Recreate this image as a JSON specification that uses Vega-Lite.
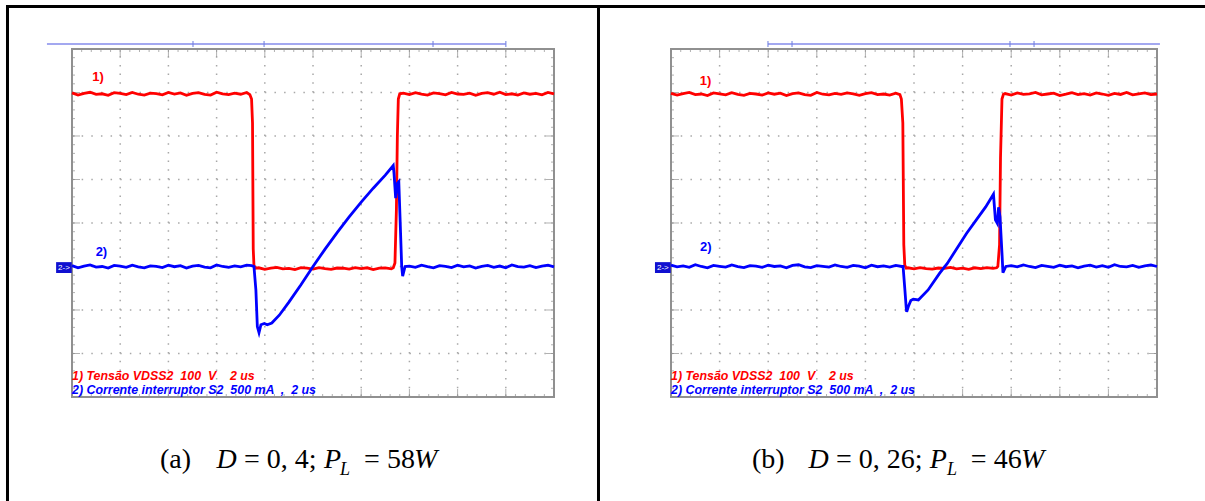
{
"$schema": "https://vega.github.io/schema/vega-lite/v6.json",
"padding": 0,
"background": "white",
"spacing": 0,
"bounds": "flush",
"config": {"view": {"stroke": null}},
"datasets": {
"one": [{}],
"xg": [{"t":2},{"t":4},{"t":6},{"t":8},{"t":10},{"t":12},{"t":14},{"t":16},{"t":18}],
"yg": [{"v":-3},{"v":-2},{"v":-1},{"v":0},{"v":1},{"v":2},{"v":3}],
"xt": [{"t":0,"m":0},{"t":0.4,"m":0},{"t":0.8,"m":0},{"t":1.2,"m":0},{"t":1.6,"m":0},{"t":2,"m":1},{"t":2.4,"m":0},{"t":2.8,"m":0},{"t":3.2,"m":0},{"t":3.6,"m":0},{"t":4,"m":1},{"t":4.4,"m":0},{"t":4.8,"m":0},{"t":5.2,"m":0},{"t":5.6,"m":0},{"t":6,"m":1},{"t":6.4,"m":0},{"t":6.8,"m":0},{"t":7.2,"m":0},{"t":7.6,"m":0},{"t":8,"m":1},{"t":8.4,"m":0},{"t":8.8,"m":0},{"t":9.2,"m":0},{"t":9.6,"m":0},{"t":10,"m":1},{"t":10.4,"m":0},{"t":10.8,"m":0},{"t":11.2,"m":0},{"t":11.6,"m":0},{"t":12,"m":1},{"t":12.4,"m":0},{"t":12.8,"m":0},{"t":13.2,"m":0},{"t":13.6,"m":0},{"t":14,"m":1},{"t":14.4,"m":0},{"t":14.8,"m":0},{"t":15.2,"m":0},{"t":15.6,"m":0},{"t":16,"m":1},{"t":16.4,"m":0},{"t":16.8,"m":0},{"t":17.2,"m":0},{"t":17.6,"m":0},{"t":18,"m":1},{"t":18.4,"m":0},{"t":18.8,"m":0},{"t":19.2,"m":0},{"t":19.6,"m":0},{"t":20,"m":0}],
"yt": [{"v":-4,"m":0},{"v":-3.8,"m":0},{"v":-3.6,"m":0},{"v":-3.4,"m":0},{"v":-3.2,"m":0},{"v":-3,"m":1},{"v":-2.8,"m":0},{"v":-2.6,"m":0},{"v":-2.4,"m":0},{"v":-2.2,"m":0},{"v":-2,"m":1},{"v":-1.8,"m":0},{"v":-1.6,"m":0},{"v":-1.4,"m":0},{"v":-1.2,"m":0},{"v":-1,"m":1},{"v":-0.8,"m":0},{"v":-0.6,"m":0},{"v":-0.4,"m":0},{"v":-0.2,"m":0},{"v":0,"m":1},{"v":0.2,"m":0},{"v":0.4,"m":0},{"v":0.6,"m":0},{"v":0.8,"m":0},{"v":1,"m":1},{"v":1.2,"m":0},{"v":1.4,"m":0},{"v":1.6,"m":0},{"v":1.8,"m":0},{"v":2,"m":1},{"v":2.2,"m":0},{"v":2.4,"m":0},{"v":2.6,"m":0},{"v":2.8,"m":0},{"v":3,"m":1},{"v":3.2,"m":0},{"v":3.4,"m":0},{"v":3.6,"m":0},{"v":3.8,"m":0},{"v":4,"m":0}],
"curL": [{"t":5.02},{"t":7.97},{"t":14.98},{"t":18.0}],
"curR": [{"t":3.99},{"t":4.98},{"t":13.95},{"t":14.94}],
"rL": [{"t":0,"v":2.99},{"t":0.25,"v":2.94},{"t":0.5,"v":2.98},{"t":0.75,"v":3.005},{"t":1,"v":2.955},{"t":1.25,"v":2.97},{"t":1.5,"v":2.935},{"t":1.75,"v":2.995},{"t":2,"v":2.98},{"t":2.25,"v":2.95},{"t":2.5,"v":3.0},{"t":2.75,"v":2.96},{"t":3,"v":2.94},{"t":3.25,"v":2.985},{"t":3.5,"v":2.975},{"t":3.75,"v":2.945},{"t":4,"v":3.0},{"t":4.25,"v":2.965},{"t":4.5,"v":2.99},{"t":4.75,"v":2.935},{"t":5,"v":2.98},{"t":5.25,"v":2.995},{"t":5.5,"v":2.955},{"t":5.75,"v":2.94},{"t":6,"v":3.005},{"t":6.25,"v":2.97},{"t":6.5,"v":2.95},{"t":6.75,"v":2.985},{"t":7,"v":2.96},{"t":7.25,"v":3.0},{"t":7.38,"v":2.95},{"t":7.45,"v":2.85},{"t":7.49,"v":2.3},{"t":7.52,"v":-0.6},{"t":7.55,"v":-0.98},{"t":7.62,"v":-1.04},{"t":7.75,"v":-1.03},{"t":8,"v":-1.065},{"t":8.25,"v":-1.04},{"t":8.5,"v":-1.02},{"t":8.75,"v":-1.055},{"t":9,"v":-1.045},{"t":9.25,"v":-1.07},{"t":9.5,"v":-1.025},{"t":9.75,"v":-1.04},{"t":10,"v":-1.06},{"t":10.25,"v":-1.025},{"t":10.5,"v":-1.05},{"t":10.75,"v":-1.065},{"t":11,"v":-1.035},{"t":11.25,"v":-1.04},{"t":11.5,"v":-1.06},{"t":11.75,"v":-1.025},{"t":12,"v":-1.05},{"t":12.25,"v":-1.03},{"t":12.5,"v":-1.07},{"t":12.75,"v":-1.04},{"t":13,"v":-1.03},{"t":13.25,"v":-1.055},{"t":13.33,"v":-1.03},{"t":13.4,"v":-0.92},{"t":13.46,"v":0.3},{"t":13.5,"v":2.0},{"t":13.54,"v":2.85},{"t":13.6,"v":2.97},{"t":13.75,"v":2.985},{"t":14,"v":2.95},{"t":14.25,"v":2.995},{"t":14.5,"v":2.96},{"t":14.75,"v":2.94},{"t":15,"v":2.99},{"t":15.25,"v":2.975},{"t":15.5,"v":2.945},{"t":15.75,"v":3.0},{"t":16,"v":2.965},{"t":16.25,"v":2.955},{"t":16.5,"v":2.985},{"t":16.75,"v":2.935},{"t":17,"v":2.98},{"t":17.25,"v":2.995},{"t":17.5,"v":2.96},{"t":17.75,"v":3.005},{"t":18,"v":2.95},{"t":18.25,"v":2.97},{"t":18.5,"v":2.94},{"t":18.75,"v":2.99},{"t":19,"v":2.96},{"t":19.25,"v":2.98},{"t":19.5,"v":2.945},{"t":19.75,"v":3.0},{"t":20,"v":2.97}],
"bL": [{"t":0,"v":-0.98},{"t":0.25,"v":-1.03},{"t":0.5,"v":-0.99},{"t":0.75,"v":-0.965},{"t":1,"v":-1.015},{"t":1.25,"v":-1.0},{"t":1.5,"v":-1.035},{"t":1.75,"v":-0.975},{"t":2,"v":-0.99},{"t":2.25,"v":-1.02},{"t":2.5,"v":-0.97},{"t":2.75,"v":-1.01},{"t":3,"v":-1.03},{"t":3.25,"v":-0.985},{"t":3.5,"v":-0.995},{"t":3.75,"v":-1.025},{"t":4,"v":-0.97},{"t":4.25,"v":-1.005},{"t":4.5,"v":-0.98},{"t":4.75,"v":-1.035},{"t":5,"v":-0.99},{"t":5.25,"v":-0.975},{"t":5.5,"v":-1.015},{"t":5.75,"v":-1.03},{"t":6,"v":-0.965},{"t":6.25,"v":-1.0},{"t":6.5,"v":-1.02},{"t":6.75,"v":-0.985},{"t":7,"v":-1.01},{"t":7.25,"v":-0.97},{"t":7.45,"v":-0.98},{"t":7.55,"v":-1.0},{"t":7.63,"v":-1.54},{"t":7.69,"v":-2.38},{"t":7.76,"v":-2.52},{"t":7.84,"v":-2.34},{"t":7.98,"v":-2.31},{"t":8.1,"v":-2.34},{"t":8.29,"v":-2.3},{"t":8.6,"v":-2.12},{"t":9,"v":-1.82},{"t":9.5,"v":-1.42},{"t":10,"v":-1.0},{"t":10.5,"v":-0.6},{"t":11,"v":-0.22},{"t":11.5,"v":0.14},{"t":12,"v":0.48},{"t":12.5,"v":0.8},{"t":13,"v":1.1},{"t":13.33,"v":1.32},{"t":13.36,"v":1.15},{"t":13.43,"v":0.57},{"t":13.5,"v":0.91},{"t":13.56,"v":0.95},{"t":13.61,"v":0.14},{"t":13.68,"v":-1.0},{"t":13.72,"v":-1.22},{"t":13.82,"v":-1.0},{"t":14,"v":-0.99},{"t":14.25,"v":-1.02},{"t":14.5,"v":-0.97},{"t":14.75,"v":-1.005},{"t":15,"v":-1.03},{"t":15.25,"v":-0.98},{"t":15.5,"v":-0.995},{"t":15.75,"v":-1.025},{"t":16,"v":-0.97},{"t":16.25,"v":-1.01},{"t":16.5,"v":-0.985},{"t":16.75,"v":-1.035},{"t":17,"v":-1.0},{"t":17.25,"v":-0.975},{"t":17.5,"v":-1.02},{"t":17.75,"v":-0.99},{"t":18,"v":-1.03},{"t":18.25,"v":-0.965},{"t":18.5,"v":-1.005},{"t":18.75,"v":-1.015},{"t":19,"v":-0.98},{"t":19.25,"v":-1.025},{"t":19.5,"v":-0.99},{"t":19.75,"v":-0.97},{"t":20,"v":-1.01}],
"rR": [{"t":0,"v":2.98},{"t":0.25,"v":2.94},{"t":0.5,"v":2.975},{"t":0.75,"v":3.0},{"t":1,"v":2.95},{"t":1.25,"v":2.965},{"t":1.5,"v":2.93},{"t":1.75,"v":2.99},{"t":2,"v":2.97},{"t":2.25,"v":2.945},{"t":2.5,"v":2.995},{"t":2.75,"v":2.955},{"t":3,"v":2.935},{"t":3.25,"v":2.98},{"t":3.5,"v":2.965},{"t":3.75,"v":2.94},{"t":4,"v":2.99},{"t":4.25,"v":2.96},{"t":4.5,"v":2.985},{"t":4.75,"v":2.93},{"t":5,"v":2.975},{"t":5.25,"v":2.99},{"t":5.5,"v":2.95},{"t":5.75,"v":2.935},{"t":6,"v":3.0},{"t":6.25,"v":2.96},{"t":6.5,"v":2.945},{"t":6.75,"v":2.98},{"t":7,"v":2.955},{"t":7.25,"v":2.99},{"t":7.5,"v":2.97},{"t":7.75,"v":2.935},{"t":8,"v":2.975},{"t":8.25,"v":2.995},{"t":8.5,"v":2.95},{"t":8.75,"v":2.965},{"t":9,"v":2.94},{"t":9.25,"v":2.985},{"t":9.42,"v":2.95},{"t":9.48,"v":2.85},{"t":9.54,"v":2.3},{"t":9.58,"v":-0.5},{"t":9.62,"v":-0.97},{"t":9.68,"v":-1.04},{"t":9.75,"v":-1.03},{"t":10,"v":-1.055},{"t":10.25,"v":-1.025},{"t":10.5,"v":-1.05},{"t":10.75,"v":-1.06},{"t":11,"v":-1.035},{"t":11.25,"v":-1.045},{"t":11.5,"v":-1.02},{"t":11.75,"v":-1.055},{"t":12,"v":-1.04},{"t":12.25,"v":-1.065},{"t":12.5,"v":-1.03},{"t":12.75,"v":-1.05},{"t":13,"v":-1.025},{"t":13.25,"v":-1.045},{"t":13.4,"v":-1.03},{"t":13.45,"v":-1.0},{"t":13.52,"v":-0.5},{"t":13.56,"v":1.5},{"t":13.62,"v":2.85},{"t":13.68,"v":2.96},{"t":13.75,"v":2.975},{"t":14,"v":2.94},{"t":14.25,"v":2.99},{"t":14.5,"v":2.955},{"t":14.75,"v":2.97},{"t":15,"v":3.0},{"t":15.25,"v":2.945},{"t":15.5,"v":2.965},{"t":15.75,"v":2.985},{"t":16,"v":2.93},{"t":16.25,"v":2.96},{"t":16.5,"v":2.995},{"t":16.75,"v":2.95},{"t":17,"v":2.975},{"t":17.25,"v":2.94},{"t":17.5,"v":2.99},{"t":17.75,"v":2.965},{"t":18,"v":2.935},{"t":18.25,"v":2.98},{"t":18.5,"v":2.955},{"t":18.75,"v":3.0},{"t":19,"v":2.945},{"t":19.25,"v":2.97},{"t":19.5,"v":2.99},{"t":19.75,"v":2.95},{"t":20,"v":2.965}],
"bR": [{"t":0,"v":-0.97},{"t":0.25,"v":-1.01},{"t":0.5,"v":-0.985},{"t":0.75,"v":-1.02},{"t":1,"v":-0.96},{"t":1.25,"v":-1.0},{"t":1.5,"v":-1.03},{"t":1.75,"v":-0.975},{"t":2,"v":-0.995},{"t":2.25,"v":-1.015},{"t":2.5,"v":-0.965},{"t":2.75,"v":-1.005},{"t":3,"v":-1.025},{"t":3.25,"v":-0.98},{"t":3.5,"v":-0.99},{"t":3.75,"v":-1.02},{"t":4,"v":-0.97},{"t":4.25,"v":-1.0},{"t":4.5,"v":-0.985},{"t":4.75,"v":-1.03},{"t":5,"v":-0.975},{"t":5.25,"v":-0.96},{"t":5.5,"v":-1.01},{"t":5.75,"v":-1.025},{"t":6,"v":-0.98},{"t":6.25,"v":-0.995},{"t":6.5,"v":-1.015},{"t":6.75,"v":-0.965},{"t":7,"v":-1.0},{"t":7.25,"v":-1.02},{"t":7.5,"v":-0.975},{"t":7.75,"v":-0.99},{"t":8,"v":-1.03},{"t":8.25,"v":-0.97},{"t":8.5,"v":-1.005},{"t":8.75,"v":-0.985},{"t":9,"v":-1.015},{"t":9.25,"v":-0.975},{"t":9.5,"v":-1.0},{"t":9.55,"v":-1.0},{"t":9.62,"v":-1.5},{"t":9.68,"v":-1.95},{"t":9.7,"v":-2.04},{"t":9.78,"v":-1.9},{"t":9.87,"v":-1.78},{"t":9.97,"v":-1.75},{"t":10.18,"v":-1.77},{"t":10.58,"v":-1.54},{"t":11.05,"v":-1.16},{"t":11.37,"v":-0.93},{"t":12.16,"v":-0.24},{"t":12.95,"v":0.37},{"t":13.27,"v":0.66},{"t":13.35,"v":0.07},{"t":13.43,"v":-0.01},{"t":13.48,"v":0.36},{"t":13.54,"v":0.14},{"t":13.62,"v":-0.69},{"t":13.66,"v":-1.14},{"t":13.78,"v":-1.0},{"t":14,"v":-0.98},{"t":14.25,"v":-1.01},{"t":14.5,"v":-0.965},{"t":14.75,"v":-1.0},{"t":15,"v":-1.025},{"t":15.25,"v":-0.975},{"t":15.5,"v":-0.995},{"t":15.75,"v":-1.02},{"t":16,"v":-0.97},{"t":16.25,"v":-1.005},{"t":16.5,"v":-0.985},{"t":16.75,"v":-1.03},{"t":17,"v":-0.99},{"t":17.25,"v":-0.97},{"t":17.5,"v":-1.015},{"t":17.75,"v":-0.98},{"t":18,"v":-1.02},{"t":18.25,"v":-0.96},{"t":18.5,"v":-1.0},{"t":18.75,"v":-1.01},{"t":19,"v":-0.975},{"t":19.25,"v":-1.02},{"t":19.5,"v":-0.985},{"t":19.75,"v":-0.965},{"t":20,"v":-1.0}]
},
"hconcat": [
{
"width": 599, "height": 501,
"layer": [
{"data": {"name": "xg"}, "mark": {"type": "rule", "color": "#a8a8a8", "strokeWidth": 1.5, "strokeDash": [1.5, 7.2]}, "encoding": {"x": {"field": "t", "type": "quantitative", "scale": {"domain": [-2.988, 21.867], "nice": false, "zero": false}, "axis": null}, "y": {"datum": -4, "type": "quantitative", "scale": {"domain": [-6.391, 5.126], "nice": false, "zero": false}, "axis": null}, "y2": {"datum": 4}}},
{"data": {"name": "yg"}, "mark": {"type": "rule", "color": "#a8a8a8", "strokeWidth": 1.5, "strokeDash": [1.5, 8.14]}, "encoding": {"y": {"field": "v", "type": "quantitative"}, "x": {"datum": 0}, "x2": {"datum": 20}}},
{"data": {"name": "one"}, "mark": {"type": "rect", "fillOpacity": 0, "stroke": "#909090", "strokeWidth": 2}, "encoding": {"x": {"datum": 0}, "x2": {"datum": 20}, "y": {"datum": -4}, "y2": {"datum": 4}}},
{"data": {"name": "xt"}, "mark": {"type": "tick", "orient": "vertical", "color": "#909090", "thickness": 1, "size": 3, "yOffset": 1.5}, "encoding": {"x": {"field": "t", "type": "quantitative"}, "y": {"datum": 4}}},
{"data": {"name": "xt"}, "transform": [{"filter": "datum.m == 1"}], "mark": {"type": "tick", "orient": "vertical", "color": "#909090", "thickness": 1, "size": 8, "yOffset": 4}, "encoding": {"x": {"field": "t", "type": "quantitative"}, "y": {"datum": 4}}},
{"data": {"name": "xt"}, "mark": {"type": "tick", "orient": "vertical", "color": "#909090", "thickness": 1, "size": 3, "yOffset": -1.5}, "encoding": {"x": {"field": "t", "type": "quantitative"}, "y": {"datum": -4}}},
{"data": {"name": "xt"}, "transform": [{"filter": "datum.m == 1"}], "mark": {"type": "tick", "orient": "vertical", "color": "#909090", "thickness": 1, "size": 8, "yOffset": -4}, "encoding": {"x": {"field": "t", "type": "quantitative"}, "y": {"datum": -4}}},
{"data": {"name": "yt"}, "mark": {"type": "tick", "orient": "horizontal", "color": "#909090", "thickness": 1, "size": 3, "xOffset": 1.5}, "encoding": {"y": {"field": "v", "type": "quantitative"}, "x": {"datum": 0}}},
{"data": {"name": "yt"}, "transform": [{"filter": "datum.m == 1"}], "mark": {"type": "tick", "orient": "horizontal", "color": "#909090", "thickness": 1, "size": 8, "xOffset": 4}, "encoding": {"y": {"field": "v", "type": "quantitative"}, "x": {"datum": 0}}},
{"data": {"name": "yt"}, "mark": {"type": "tick", "orient": "horizontal", "color": "#909090", "thickness": 1, "size": 3, "xOffset": -1.5}, "encoding": {"y": {"field": "v", "type": "quantitative"}, "x": {"datum": 20}}},
{"data": {"name": "yt"}, "transform": [{"filter": "datum.m == 1"}], "mark": {"type": "tick", "orient": "horizontal", "color": "#909090", "thickness": 1, "size": 8, "xOffset": -4}, "encoding": {"y": {"field": "v", "type": "quantitative"}, "x": {"datum": 20}}},
{"data": {"name": "one"}, "mark": {"type": "rule", "color": "#a3a8f0", "strokeWidth": 2}, "encoding": {"x": {"datum": -1.04}, "x2": {"datum": 18.0}, "y": {"datum": 4.115}}},
{"data": {"name": "curL"}, "mark": {"type": "tick", "orient": "vertical", "color": "#7080e0", "thickness": 1.5, "size": 6}, "encoding": {"x": {"field": "t", "type": "quantitative"}, "y": {"datum": 4.115}}},
{"data": {"name": "rL"}, "mark": {"type": "line", "color": "#ff0000", "strokeWidth": 2.8}, "encoding": {"x": {"field": "t", "type": "quantitative"}, "y": {"field": "v", "type": "quantitative"}}},
{"data": {"name": "bL"}, "mark": {"type": "line", "color": "#0000ff", "strokeWidth": 2.8}, "encoding": {"x": {"field": "t", "type": "quantitative"}, "y": {"field": "v", "type": "quantitative"}}},
{"data": {"name": "one"}, "mark": {"type": "text", "text": "1)", "font": "Liberation Sans", "fontWeight": "bold", "fontSize": 13, "color": "#ff0000", "align": "center", "baseline": "middle"}, "encoding": {"x": {"datum": 1.08}, "y": {"datum": 3.36}}},
{"data": {"name": "one"}, "mark": {"type": "text", "text": "2)", "font": "Liberation Sans", "fontWeight": "bold", "fontSize": 13, "color": "#0000ff", "align": "center", "baseline": "middle"}, "encoding": {"x": {"datum": 1.22}, "y": {"datum": -0.67}}},
{"data": {"name": "one"}, "mark": {"type": "text", "text": "1) Tensão VDSS2 \u00a0100 \u00a0V \u00a0\u00a0 2 us", "font": "Liberation Sans", "fontWeight": "bold", "fontStyle": "italic", "fontSize": 12.4, "color": "#ff0000", "align": "left", "baseline": "alphabetic"}, "encoding": {"x": {"datum": 0}, "y": {"datum": -3.61}}},
{"data": {"name": "one"}, "mark": {"type": "text", "text": "2) Corrente interruptor S2 \u00a0500 mA \u00a0, \u00a02 us", "font": "Liberation Sans", "fontWeight": "bold", "fontStyle": "italic", "fontSize": 12.4, "color": "#0000ff", "align": "left", "baseline": "alphabetic"}, "encoding": {"x": {"datum": 0}, "y": {"datum": -3.93}}},
{"data": {"name": "one"}, "mark": {"type": "rect", "color": "#1010d0"}, "encoding": {"x": {"datum": -0.66}, "x2": {"datum": -0.01}, "y": {"datum": -0.9}, "y2": {"datum": -1.15}}},
{"data": {"name": "one"}, "mark": {"type": "text", "text": "2->", "font": "Liberation Sans", "fontSize": 8, "color": "white", "align": "center", "baseline": "middle"}, "encoding": {"x": {"datum": -0.335}, "y": {"datum": -1.025}}},
{"data": {"name": "one"}, "mark": {"type": "text", "text": "(a)", "font": "Liberation Serif", "fontSize": 28, "color": "black", "align": "left", "baseline": "alphabetic"}, "encoding": {"x": {"datum": 3.65}, "y": {"datum": -5.63}}},
{"data": {"name": "one"}, "mark": {"type": "text", "text": "D", "font": "Liberation Serif", "fontStyle": "italic", "fontSize": 28, "color": "black", "align": "left", "baseline": "alphabetic"}, "encoding": {"x": {"datum": 6.0}, "y": {"datum": -5.63}}},
{"data": {"name": "one"}, "mark": {"type": "text", "text": "= 0, 4;", "font": "Liberation Serif", "fontSize": 28, "color": "black", "align": "left", "baseline": "alphabetic"}, "encoding": {"x": {"datum": 7.14}, "y": {"datum": -5.63}}},
{"data": {"name": "one"}, "mark": {"type": "text", "text": "P", "font": "Liberation Serif", "fontStyle": "italic", "fontSize": 28, "color": "black", "align": "left", "baseline": "alphabetic"}, "encoding": {"x": {"datum": 10.46}, "y": {"datum": -5.63}}},
{"data": {"name": "one"}, "mark": {"type": "text", "text": "L", "font": "Liberation Serif", "fontStyle": "italic", "fontSize": 18, "color": "black", "align": "left", "baseline": "alphabetic"}, "encoding": {"x": {"datum": 11.12}, "y": {"datum": -5.8}}},
{"data": {"name": "one"}, "mark": {"type": "text", "text": "= 58", "font": "Liberation Serif", "fontSize": 28, "color": "black", "align": "left", "baseline": "alphabetic"}, "encoding": {"x": {"datum": 12.12}, "y": {"datum": -5.63}}},
{"data": {"name": "one"}, "mark": {"type": "text", "text": "W", "font": "Liberation Serif", "fontStyle": "italic", "fontSize": 28, "color": "black", "align": "left", "baseline": "alphabetic"}, "encoding": {"x": {"datum": 14.19}, "y": {"datum": -5.63}}},
{"data": {"name": "one"}, "mark": {"type": "rule", "color": "black", "strokeWidth": 3}, "encoding": {"x": {"datum": -2.739}, "x2": {"datum": 21.867}, "y": {"datum": 4.977}}},
{"data": {"name": "one"}, "mark": {"type": "rule", "color": "black", "strokeWidth": 3}, "encoding": {"x": {"datum": -2.677}, "y": {"datum": 5.011}, "y2": {"datum": -6.391}}},
{"data": {"name": "one"}, "mark": {"type": "rule", "color": "black", "strokeWidth": 3}, "encoding": {"x": {"datum": 21.846}, "y": {"datum": 5.011}, "y2": {"datum": -6.391}}}
]
},
{
"width": 606, "height": 501,
"layer": [
{"data": {"name": "xg"}, "mark": {"type": "rule", "color": "#a8a8a8", "strokeWidth": 1.5, "strokeDash": [1.5, 7.2]}, "encoding": {"x": {"field": "t", "type": "quantitative", "scale": {"domain": [-2.963, 21.975], "nice": false, "zero": false}, "axis": null}, "y": {"datum": -4, "type": "quantitative", "scale": {"domain": [-6.391, 5.126], "nice": false, "zero": false}, "axis": null}, "y2": {"datum": 4}}},
{"data": {"name": "yg"}, "mark": {"type": "rule", "color": "#a8a8a8", "strokeWidth": 1.5, "strokeDash": [1.5, 8.22]}, "encoding": {"y": {"field": "v", "type": "quantitative"}, "x": {"datum": 0}, "x2": {"datum": 20}}},
{"data": {"name": "one"}, "mark": {"type": "rect", "fillOpacity": 0, "stroke": "#909090", "strokeWidth": 2}, "encoding": {"x": {"datum": 0}, "x2": {"datum": 20}, "y": {"datum": -4}, "y2": {"datum": 4}}},
{"data": {"name": "xt"}, "mark": {"type": "tick", "orient": "vertical", "color": "#909090", "thickness": 1, "size": 3, "yOffset": 1.5}, "encoding": {"x": {"field": "t", "type": "quantitative"}, "y": {"datum": 4}}},
{"data": {"name": "xt"}, "transform": [{"filter": "datum.m == 1"}], "mark": {"type": "tick", "orient": "vertical", "color": "#909090", "thickness": 1, "size": 8, "yOffset": 4}, "encoding": {"x": {"field": "t", "type": "quantitative"}, "y": {"datum": 4}}},
{"data": {"name": "xt"}, "mark": {"type": "tick", "orient": "vertical", "color": "#909090", "thickness": 1, "size": 3, "yOffset": -1.5}, "encoding": {"x": {"field": "t", "type": "quantitative"}, "y": {"datum": -4}}},
{"data": {"name": "xt"}, "transform": [{"filter": "datum.m == 1"}], "mark": {"type": "tick", "orient": "vertical", "color": "#909090", "thickness": 1, "size": 8, "yOffset": -4}, "encoding": {"x": {"field": "t", "type": "quantitative"}, "y": {"datum": -4}}},
{"data": {"name": "yt"}, "mark": {"type": "tick", "orient": "horizontal", "color": "#909090", "thickness": 1, "size": 3, "xOffset": 1.5}, "encoding": {"y": {"field": "v", "type": "quantitative"}, "x": {"datum": 0}}},
{"data": {"name": "yt"}, "transform": [{"filter": "datum.m == 1"}], "mark": {"type": "tick", "orient": "horizontal", "color": "#909090", "thickness": 1, "size": 8, "xOffset": 4}, "encoding": {"y": {"field": "v", "type": "quantitative"}, "x": {"datum": 0}}},
{"data": {"name": "yt"}, "mark": {"type": "tick", "orient": "horizontal", "color": "#909090", "thickness": 1, "size": 3, "xOffset": -1.5}, "encoding": {"y": {"field": "v", "type": "quantitative"}, "x": {"datum": 20}}},
{"data": {"name": "yt"}, "transform": [{"filter": "datum.m == 1"}], "mark": {"type": "tick", "orient": "horizontal", "color": "#909090", "thickness": 1, "size": 8, "xOffset": -4}, "encoding": {"y": {"field": "v", "type": "quantitative"}, "x": {"datum": 20}}},
{"data": {"name": "one"}, "mark": {"type": "rule", "color": "#a3a8f0", "strokeWidth": 2}, "encoding": {"x": {"datum": 3.99}, "x2": {"datum": 20.12}, "y": {"datum": 4.115}}},
{"data": {"name": "curR"}, "mark": {"type": "tick", "orient": "vertical", "color": "#7080e0", "thickness": 1.5, "size": 6}, "encoding": {"x": {"field": "t", "type": "quantitative"}, "y": {"datum": 4.115}}},
{"data": {"name": "rR"}, "mark": {"type": "line", "color": "#ff0000", "strokeWidth": 2.8}, "encoding": {"x": {"field": "t", "type": "quantitative"}, "y": {"field": "v", "type": "quantitative"}}},
{"data": {"name": "bR"}, "mark": {"type": "line", "color": "#0000ff", "strokeWidth": 2.8}, "encoding": {"x": {"field": "t", "type": "quantitative"}, "y": {"field": "v", "type": "quantitative"}}},
{"data": {"name": "one"}, "mark": {"type": "text", "text": "1)", "font": "Liberation Sans", "fontWeight": "bold", "fontSize": 13, "color": "#ff0000", "align": "center", "baseline": "middle"}, "encoding": {"x": {"datum": 1.42}, "y": {"datum": 3.27}}},
{"data": {"name": "one"}, "mark": {"type": "text", "text": "2)", "font": "Liberation Sans", "fontWeight": "bold", "fontSize": 13, "color": "#0000ff", "align": "center", "baseline": "middle"}, "encoding": {"x": {"datum": 1.43}, "y": {"datum": -0.55}}},
{"data": {"name": "one"}, "mark": {"type": "text", "text": "1) Tensão VDSS2 \u00a0100 \u00a0V \u00a0\u00a0 2 us", "font": "Liberation Sans", "fontWeight": "bold", "fontStyle": "italic", "fontSize": 12.4, "color": "#ff0000", "align": "left", "baseline": "alphabetic"}, "encoding": {"x": {"datum": 0}, "y": {"datum": -3.61}}},
{"data": {"name": "one"}, "mark": {"type": "text", "text": "2) Corrente interruptor S2 \u00a0500 mA \u00a0, \u00a02 us", "font": "Liberation Sans", "fontWeight": "bold", "fontStyle": "italic", "fontSize": 12.4, "color": "#0000ff", "align": "left", "baseline": "alphabetic"}, "encoding": {"x": {"datum": 0}, "y": {"datum": -3.93}}},
{"data": {"name": "one"}, "mark": {"type": "rect", "color": "#1010d0"}, "encoding": {"x": {"datum": -0.66}, "x2": {"datum": -0.01}, "y": {"datum": -0.9}, "y2": {"datum": -1.15}}},
{"data": {"name": "one"}, "mark": {"type": "text", "text": "2->", "font": "Liberation Sans", "fontSize": 8, "color": "white", "align": "center", "baseline": "middle"}, "encoding": {"x": {"datum": -0.335}, "y": {"datum": -1.025}}},
{"data": {"name": "one"}, "mark": {"type": "text", "text": "(b)", "font": "Liberation Serif", "fontSize": 28, "color": "black", "align": "left", "baseline": "alphabetic"}, "encoding": {"x": {"datum": 3.33}, "y": {"datum": -5.63}}},
{"data": {"name": "one"}, "mark": {"type": "text", "text": "D", "font": "Liberation Serif", "fontStyle": "italic", "fontSize": 28, "color": "black", "align": "left", "baseline": "alphabetic"}, "encoding": {"x": {"datum": 5.66}, "y": {"datum": -5.63}}},
{"data": {"name": "one"}, "mark": {"type": "text", "text": "= 0, 26;", "font": "Liberation Serif", "fontSize": 28, "color": "black", "align": "left", "baseline": "alphabetic"}, "encoding": {"x": {"datum": 6.79}, "y": {"datum": -5.63}}},
{"data": {"name": "one"}, "mark": {"type": "text", "text": "P", "font": "Liberation Serif", "fontStyle": "italic", "fontSize": 28, "color": "black", "align": "left", "baseline": "alphabetic"}, "encoding": {"x": {"datum": 10.65}, "y": {"datum": -5.63}}},
{"data": {"name": "one"}, "mark": {"type": "text", "text": "L", "font": "Liberation Serif", "fontStyle": "italic", "fontSize": 18, "color": "black", "align": "left", "baseline": "alphabetic"}, "encoding": {"x": {"datum": 11.36}, "y": {"datum": -5.8}}},
{"data": {"name": "one"}, "mark": {"type": "text", "text": "= 46", "font": "Liberation Serif", "fontSize": 28, "color": "black", "align": "left", "baseline": "alphabetic"}, "encoding": {"x": {"datum": 12.34}, "y": {"datum": -5.63}}},
{"data": {"name": "one"}, "mark": {"type": "text", "text": "W", "font": "Liberation Serif", "fontStyle": "italic", "fontSize": 28, "color": "black", "align": "left", "baseline": "alphabetic"}, "encoding": {"x": {"datum": 14.4}, "y": {"datum": -5.63}}},
{"data": {"name": "one"}, "mark": {"type": "rule", "color": "black", "strokeWidth": 3}, "encoding": {"x": {"datum": -2.963}, "x2": {"datum": 21.975}, "y": {"datum": 4.977}}}
]
}
]
}
